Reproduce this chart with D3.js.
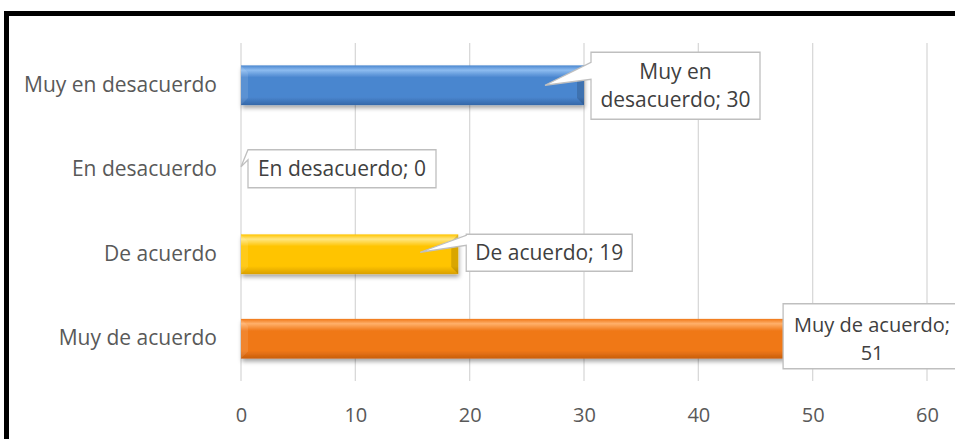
<!DOCTYPE html>
<html><head><meta charset="utf-8">
<script src="https://cdn.jsdelivr.net/npm/d3@7"></script>
<style>html,body{margin:0;padding:0;background:#fff;overflow:hidden}</style>
</head><body>
<svg id="chart" width="955" height="439"></svg>
<script>
const categories = ["Muy en desacuerdo", "En desacuerdo", "De acuerdo", "Muy de acuerdo"];
const values = [30, 0, 19, 51];
const tickValues = [0, 10, 20, 30, 40, 50, 60];

const FONT = "'Open Sans', 'Noto Sans', sans-serif";
const svg = d3.select("#chart");
const x = d3.scaleLinear().domain([0, 60]).range([241, 927]);
const y = d3.scaleBand().domain(categories).range([43, 381]).paddingInner(0.53).paddingOuter(0.265);

// frame
svg.append("rect").attr("x", 6.5).attr("y", 13.5).attr("width", 1000).attr("height", 500)
  .attr("fill", "none").attr("stroke", "#000").attr("stroke-width", 5);

// gradients
const defs = svg.append("defs");
const shades = [["#8dbcf0", "#4a86cf", "#3467a8"], ["#8dbcf0", "#4a86cf", "#3467a8"], ["#ffe680", "#ffc400", "#d9a000"], ["#ffb06a", "#f07818", "#c85e0c"]];
categories.forEach((c, i) => {
  const g = defs.append("linearGradient").attr("id", "g" + i).attr("x1", 0).attr("y1", 0).attr("x2", 0).attr("y2", 1);
  g.append("stop").attr("offset", "0").attr("stop-color", shades[i][1]);
  g.append("stop").attr("offset", "0.12").attr("stop-color", shades[i][0]);
  g.append("stop").attr("offset", "0.3").attr("stop-color", shades[i][1]);
  g.append("stop").attr("offset", "0.8").attr("stop-color", shades[i][1]);
  g.append("stop").attr("offset", "1").attr("stop-color", shades[i][2]);
});
const f = defs.append("filter").attr("id", "sh").attr("x", "-5%").attr("y", "-20%").attr("width", "110%").attr("height", "160%");
f.append("feDropShadow").attr("dx", 1).attr("dy", 3).attr("stdDeviation", 2).attr("flood-color", "#000").attr("flood-opacity", 0.35);

// grid
svg.append("g").selectAll("line").data(tickValues).join("line")
  .attr("x1", d => x(d)).attr("x2", d => x(d)).attr("y1", 43).attr("y2", 381)
  .attr("stroke", "#d9d9d9").attr("stroke-width", 1.3);

// x axis
const xAxis = svg.append("g").attr("transform", "translate(0,381)")
  .call(d3.axisBottom(x).tickValues(tickValues).tickSize(0).tickPadding(27));
xAxis.select(".domain").remove();
xAxis.selectAll("text").attr("fill", "#595959").attr("font-size", 20).attr("font-family", FONT);

// y axis
const yAxis = svg.append("g").attr("transform", "translate(217,0)")
  .call(d3.axisLeft(y).tickSize(0).tickPadding(0));
yAxis.select(".domain").remove();
yAxis.selectAll("text").attr("fill", "#595959").attr("font-size", 21).attr("font-family", FONT);

// bars
svg.append("g").selectAll("rect").data(categories).join("rect")
  .attr("x", x(0)).attr("y", d => y(d)).attr("height", y.bandwidth())
  .attr("width", (d, i) => x(values[i]) - x(0))
  .attr("fill", (d, i) => "url(#g" + i + ")")
  .attr("filter", "url(#sh)");
// bevel edges
svg.append("g").selectAll("path").data(categories).join("path")
  .attr("d", (d, i) => {
    const x0 = x(0), x1 = x(values[i]), y0 = y(d), y1 = y0 + y.bandwidth();
    if (x1 - x0 < 1) return "";
    return `M${x0},${y0}L${x0+7},${y0+7}L${x0+7},${y1-7}L${x0},${y1}Z`;
  }).attr("fill", "rgba(255,255,255,0.10)");
svg.append("g").selectAll("path").data(categories).join("path")
  .attr("d", (d, i) => {
    const x0 = x(0), x1 = x(values[i]), y0 = y(d), y1 = y0 + y.bandwidth();
    if (x1 - x0 < 1) return "";
    return `M${x1},${y0}L${x1-7},${y0+7}L${x1-7},${y1-7}L${x1},${y1}Z`;
  }).attr("fill", "rgba(0,0,0,0.15)");

// callouts (layout: box offsets relative to bar end, pointer tip relative to bar end)
const callouts = [
  { dx: 7, dy: -33, w: 169, h: 67, tip: [-39, 0], base: [10, 27], tx: 0, ty: 0, fs: 21, lines: ["Muy en", "desacuerdo; 30"] },
  { dx: 7, dy: -20, w: 188, h: 38, tip: [0, -3], base: [0, 10], tx: 0, ty: 0, fs: 21, lines: ["En desacuerdo; 0"] },
  { dx: 8, dy: -20, w: 166, h: 37, tip: [-38, -2], base: [1, 11], tx: 0, ty: 0, fs: 21, lines: ["De acuerdo; 19"] },
  { dx: -41, dy: -35, w: 200, h: 65, tip: null, base: null, tx: -11, ty: 3, fs: 20, lines: ["Muy de acuerdo;", "51"] }
];
const cg = svg.append("g");
categories.forEach((c, i) => {
  const co = callouts[i];
  const bx = x(values[i]) + co.dx, cy = y(c) + y.bandwidth() / 2, by = cy + co.dy;
  let d = `M${bx},${by}H${bx+co.w}V${by+co.h}H${bx}`;
  if (co.tip) {
    d += `V${by+co.base[1]}L${x(values[i]) + co.tip[0]},${cy + co.tip[1]}L${bx},${by+co.base[0]}Z`;
  } else d += "Z";
  cg.append("path").attr("d", d).attr("fill", "#fff").attr("stroke", "#bfbfbf").attr("stroke-width", 1.3);
  const lh = 28;
  const t0 = by + co.h / 2 - (co.lines.length - 1) * lh / 2 + co.ty;
  co.lines.forEach((ln, k) => {
    cg.append("text").attr("x", bx + co.w / 2 + co.tx).attr("y", t0 + k * lh)
      .attr("dy", "0.35em").attr("text-anchor", "middle")
      .attr("fill", "#404040").attr("font-size", co.fs).attr("font-family", FONT).text(ln);
  });
});
</script>
</body></html>
